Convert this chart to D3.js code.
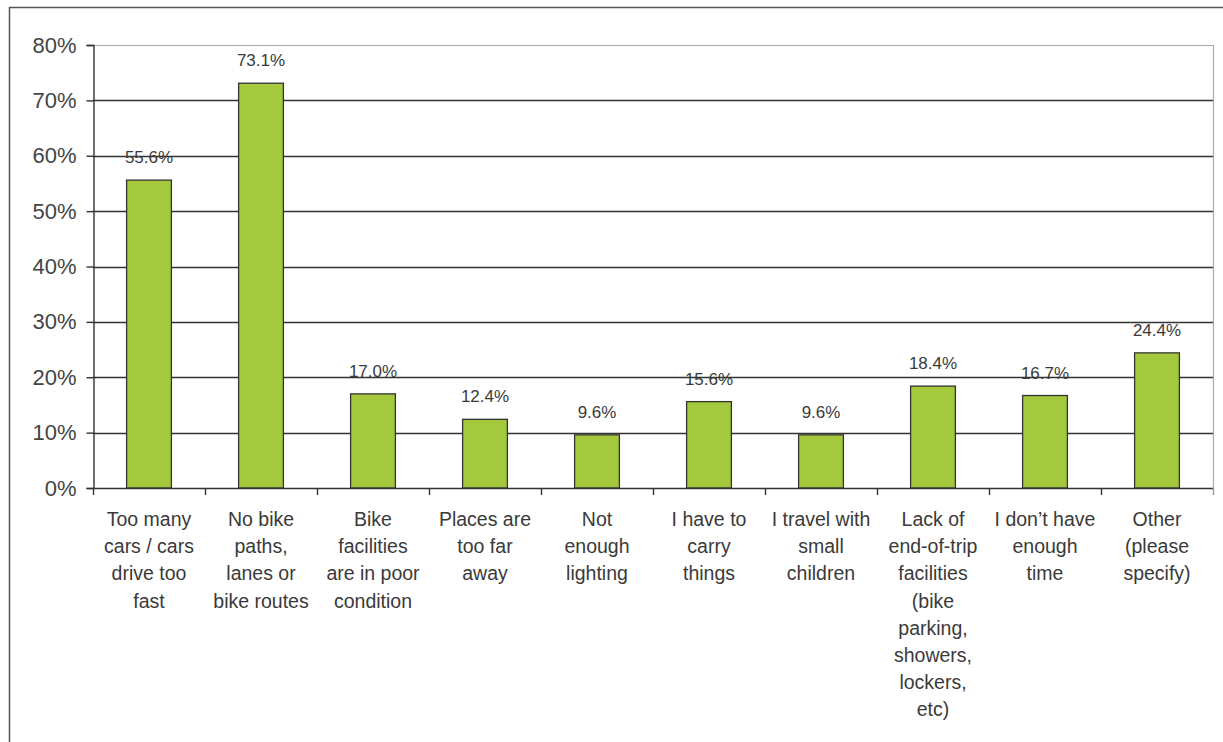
<!DOCTYPE html>
<html><head><meta charset="utf-8">
<script src="https://cdn.jsdelivr.net/npm/d3@7"></script>
<style>body{margin:0;background:#fff;} svg{display:block;}</style>
</head><body>
<svg id="c" width="1223" height="742"></svg>
<script>
const categories = [
  ["Too many","cars / cars","drive too","fast"],
  ["No bike","paths,","lanes or","bike routes"],
  ["Bike","facilities","are in poor","condition"],
  ["Places are","too far","away"],
  ["Not","enough","lighting"],
  ["I have to","carry","things"],
  ["I travel with","small","children"],
  ["Lack of","end-of-trip","facilities","(bike","parking,","showers,","lockers,","etc)"],
  ["I don\u2019t have","enough","time"],
  ["Other","(please","specify)"]
];
const values = [55.6, 73.1, 17.0, 12.4, 9.6, 15.6, 9.6, 18.4, 16.7, 24.4];
const valueLabels = ["55.6%","73.1%","17.0%","12.4%","9.6%","15.6%","9.6%","18.4%","16.7%","24.4%"];
const yTicks = [0,10,20,30,40,50,60,70,80];

const svg = d3.select("#c");
const L = 93, R = 1213, T = 45, B = 488;
const font = "Liberation Sans, Arial, sans-serif";

// outer border
svg.append("line").attr("x1",9).attr("x2",1223).attr("y1",7.5).attr("y2",7.5).attr("stroke","#555").attr("stroke-width",1.5);
svg.append("line").attr("x1",9.5).attr("x2",9.5).attr("y1",7).attr("y2",742).attr("stroke","#555").attr("stroke-width",1.5);

const x = d3.scaleBand().domain(d3.range(categories.length)).range([L,R]).paddingInner(0.6).paddingOuter(0.3);
const xb = d3.scaleBand().domain(d3.range(categories.length)).range([L,R]);
const y = d3.scaleLinear().domain([0,80]).range([B,T]);

// gridlines
svg.append("g").selectAll("line").data(yTicks.filter(d=>d>0)).join("line")
  .attr("x1",L).attr("x2",R)
  .attr("y1",d=>Math.round(y(d))+0.5).attr("y2",d=>Math.round(y(d))+0.5)
  .attr("stroke",d=>d===80?"#aaa":"#333").attr("stroke-width",d=>d===80?1.2:1.4);
// right edge of plot
svg.append("line").attr("x1",R+0.5).attr("x2",R+0.5).attr("y1",T).attr("y2",B).attr("stroke","#aaa").attr("stroke-width",1.2);

// bars
svg.append("g").selectAll("rect").data(values).join("rect")
  .attr("x",(d,i)=>x(i)).attr("width",x.bandwidth())
  .attr("y",d=>y(d)).attr("height",d=>B-y(d))
  .attr("fill","#a5c93d").attr("stroke","#333").attr("stroke-width",1.3);

// value labels
svg.append("g").selectAll("text").data(values).join("text")
  .attr("x",(d,i)=>x(i)+x.bandwidth()/2).attr("y",d=>y(d)-17)
  .attr("text-anchor","middle").attr("font-family",font).attr("font-size",17).attr("fill","#3a3a3a")
  .text((d,i)=>valueLabels[i]);

// y axis
const yAxis = d3.axisLeft(y).tickValues(yTicks).tickFormat(d=>d+"%").tickSize(7).tickPadding(10);
const gy = svg.append("g").attr("transform",`translate(${L+0.5},0)`).call(yAxis);
gy.select(".domain").attr("stroke","#333").attr("stroke-width",1.4);
gy.selectAll(".tick line").attr("stroke","#333").attr("stroke-width",1.4);
gy.selectAll(".tick text").attr("font-family",font).attr("font-size",22).attr("fill","#444");

// x axis baseline and ticks at band boundaries
svg.append("line").attr("x1",L).attr("x2",R).attr("y1",B+0.5).attr("y2",B+0.5).attr("stroke","#333").attr("stroke-width",1.4);
const bounds = d3.range(categories.length+1).map(i=> i<categories.length ? xb(i) : R);
svg.append("g").selectAll("line").data(bounds).join("line")
  .attr("x1",d=>d+0.5).attr("x2",d=>d+0.5).attr("y1",B).attr("y2",B+7)
  .attr("stroke",(d,i)=>i===categories.length?"#999":"#333").attr("stroke-width",1.4);

// category labels
const gl = svg.append("g");
categories.forEach((lines,i)=>{
  const t = gl.append("text").attr("text-anchor","middle").attr("font-family",font)
    .attr("font-size",19.5).attr("fill","#3a3a3a");
  lines.forEach((ln,j)=>{
    t.append("tspan").attr("x",xb(i)+xb.bandwidth()/2).attr("y",526+j*27.2).text(ln);
  });
});
</script>
</body></html>
